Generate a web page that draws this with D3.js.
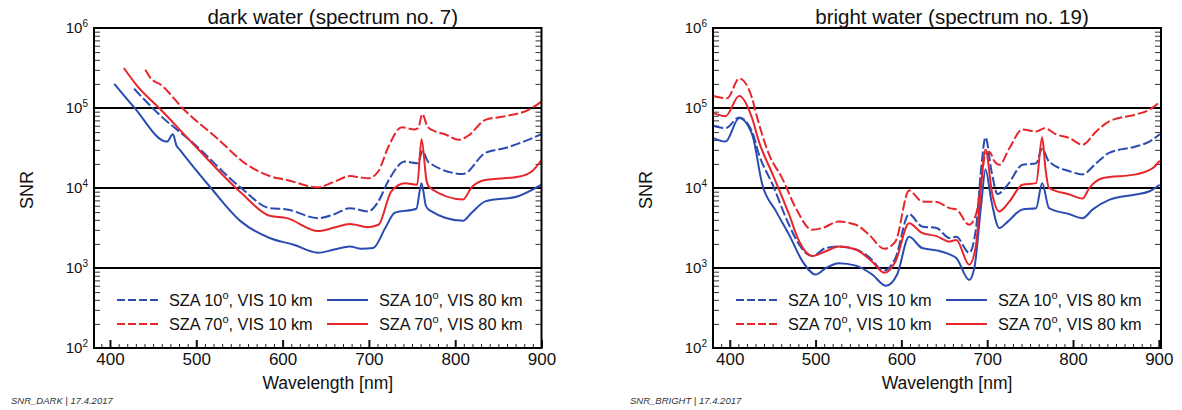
<!DOCTYPE html>
<html><head><meta charset="utf-8">
<script src="https://cdn.jsdelivr.net/npm/d3@7/dist/d3.min.js"></script>
<style>body{margin:0;background:#fff}svg{display:block}text{font-family:"Liberation Sans",Arial,sans-serif;fill:#111}</style>
</head><body><svg id="c" width="1182" height="410"></svg>
<script>
// ---------- DATA ----------
const titles = ["dark water (spectrum no. 7)", "bright water (spectrum no. 19)"];
const footers = ["SNR_DARK | 17.4.2017", "SNR_BRIGHT | 17.4.2017"];
const xTickLabels = [400, 500, 600, 700, 800, 900];
const yDecades = [2, 3, 4, 5, 6];
const legendLabels = [["SZA 10", ", VIS 10 km"], ["SZA 70", ", VIS 10 km"], ["SZA 10", ", VIS 80 km"], ["SZA 70", ", VIS 80 km"]];

// dark water, SZA 10 VIS 10 (blue dashed)
const darkW_10_10 = [428, 455, 497, 552, 585, 605, 641, 660, 678, 699, 711, 722, 742, 757, 762, 769, 809, 835, 858, 900];
const darkV_10_10 = [174000, 87000, 36000, 10000, 5600, 5400, 4200, 4700, 5600, 5100, 6800, 12000, 21400, 20400, 29000, 21000, 15000, 27500, 31600, 47000];
// dark water, SZA 70 VIS 10 (red dashed)
const darkW_70_10 = [441, 447, 459, 486, 524, 559, 585, 605, 641, 660, 678, 691, 699, 711, 722, 738, 753, 757, 762, 768, 777, 788, 804, 815, 835, 858, 885, 900];
const darkV_70_10 = [300000, 237000, 195000, 95000, 42000, 19500, 14100, 12600, 10200, 12000, 14100, 13500, 13200, 16200, 31600, 57500, 54000, 56000, 84000, 58000, 51000, 47000, 40000, 45000, 71000, 79000, 95000, 120000];
// dark water, SZA 10 VIS 80 (blue solid)
const darkW_10_80 = [405, 428, 466, 473, 477, 481, 500, 517, 552, 585, 613, 641, 660, 678, 691, 705, 719, 730, 755, 761, 766, 770, 809, 819, 835, 873, 900];
const darkV_10_80 = [200000, 102000, 38000, 47000, 34000, 30000, 16600, 10000, 3800, 2370, 1950, 1550, 1700, 1860, 1740, 1780, 3160, 4900, 5500, 11500, 6000, 5300, 3900, 4900, 6800, 7900, 11000];
// dark water, SZA 70 VIS 80 (red solid)
const darkW_70_80 = [416, 432, 459, 497, 552, 585, 605, 641, 660, 678, 699, 711, 726, 742, 756, 761, 767, 771, 809, 819, 835, 873, 889, 900];
const darkV_70_80 = [316000, 186000, 95000, 35000, 8700, 4500, 4200, 2900, 3200, 3550, 3240, 3470, 9100, 11500, 11000, 40700, 12000, 10000, 7200, 10200, 12600, 13800, 16200, 22400];

// bright water, SZA 10 VIS 10 (blue dashed)
const brightW_10_10 = [381, 395, 411, 426, 434, 450, 469, 481, 496, 512, 527, 547, 566, 574, 580, 593, 609, 624, 641, 656, 664, 679, 687, 693, 698, 705, 712, 724, 741, 757, 764, 772, 796, 811, 827, 842, 873, 889, 901];
const brightV_10_10 = [60000, 56000, 76000, 51000, 26300, 11000, 3470, 1950, 1410, 1780, 1860, 1700, 1260, 1000, 930, 1330, 4700, 3300, 3160, 2370, 2450, 1550, 3160, 17800, 43000, 16200, 8400, 11000, 19500, 20400, 31000, 21400, 16200, 14800, 20400, 27500, 33000, 38000, 47000];
// bright water, SZA 70 VIS 10 (red dashed)
const brightW_70_10 = [381, 397, 411, 426, 430, 446, 461, 477, 496, 508, 527, 547, 562, 580, 593, 609, 624, 641, 656, 664, 679, 687, 693, 698, 703, 708, 714, 726, 741, 757, 767, 780, 796, 811, 827, 842, 873, 889, 901];
const brightV_70_10 = [141000, 132000, 234000, 133000, 91000, 26000, 13300, 5600, 3000, 3160, 3800, 3470, 2630, 1740, 2140, 9300, 6800, 6700, 5600, 5400, 3470, 4700, 12000, 27000, 28000, 22000, 19500, 31600, 54000, 51000, 56000, 47000, 42000, 34700, 51000, 68000, 83000, 95000, 119000];
// bright water, SZA 10 VIS 80 (blue solid)
const brightW_10_80 = [381, 395, 411, 426, 438, 454, 469, 485, 500, 512, 527, 547, 566, 582, 595, 609, 624, 641, 656, 664, 679, 685, 693, 698, 705, 714, 724, 741, 757, 764, 772, 796, 811, 823, 842, 873, 889, 901];
const brightV_10_80 = [42000, 38000, 75000, 47000, 11000, 5100, 2630, 1200, 830, 1000, 1150, 1070, 830, 600, 830, 2450, 1780, 1660, 1480, 1330, 710, 1000, 6200, 17000, 6800, 3160, 3800, 5400, 5600, 11500, 5600, 4700, 4200, 5400, 7100, 8300, 9100, 11000];
// bright water, SZA 70 VIS 80 (red solid)
const brightW_70_80 = [381, 395, 411, 426, 434, 450, 469, 481, 496, 512, 527, 547, 566, 580, 593, 609, 624, 641, 656, 664, 679, 687, 693, 698, 706, 714, 726, 741, 757, 764, 768, 772, 796, 811, 819, 835, 873, 893, 901];
const brightV_70_80 = [87000, 79000, 141000, 75000, 38000, 14800, 4700, 2140, 1410, 1620, 1860, 1700, 1200, 870, 1200, 3630, 2750, 2500, 2140, 2240, 1100, 1950, 11000, 30000, 8300, 5100, 6800, 11000, 11500, 43000, 17000, 10000, 8300, 7400, 10000, 13300, 14800, 17800, 21900];

// ---------- DRAW ----------
const BLUE = "#2a4cb2", RED = "#e6262b";
const svg = d3.select("#c");
const panels = [
  {x0: 94, x1: 541.5, dom: [381.5, 900], title: titles[0], foot: footers[0], footX: 11,
   series: [[darkW_10_10, darkV_10_10, BLUE, true], [darkW_70_10, darkV_70_10, RED, true], [darkW_10_80, darkV_10_80, BLUE, false], [darkW_70_80, darkV_70_80, RED, false]]},
  {x0: 713, x1: 1161, dom: [380.5, 902.5], title: titles[1], foot: footers[1], footX: 630,
   series: [[brightW_10_10, brightV_10_10, BLUE, true], [brightW_70_10, brightV_70_10, RED, true], [brightW_10_80, brightV_10_80, BLUE, false], [brightW_70_80, brightV_70_80, RED, false]]}
];
const yTop = 28, yBot = 348;
const y = d3.scaleLog().domain([100, 1e6]).range([yBot, yTop]);

panels.forEach(p => {
  const x = d3.scaleLinear().domain(p.dom).range([p.x0, p.x1]);
  const g = svg.append("g");
  const cx = (p.x0 + p.x1) / 2;

  // minor y ticks (inside, both sides)
  const minorY = [];
  for (let d = 2; d < 6; d++) for (let k = 2; k <= 9; k++) minorY.push(k * Math.pow(10, d));
  g.append("g").attr("transform", `translate(${p.x0},0)`)
    .call(d3.axisLeft(y).tickValues(minorY).tickSize(-6).tickFormat(""))
    .call(a => { a.select(".domain").remove(); a.selectAll("line").attr("stroke", "#333").attr("stroke-width", 1); });
  g.append("g").attr("transform", `translate(${p.x1},0)`)
    .call(d3.axisRight(y).tickValues(minorY).tickSize(-6).tickFormat(""))
    .call(a => { a.select(".domain").remove(); a.selectAll("line").attr("stroke", "#333").attr("stroke-width", 1); });

  // x minor ticks
  const minorX = d3.range(390, 901, 10).filter(v => v % 100 !== 0 && v >= p.dom[0]);
  g.append("g").attr("transform", `translate(0,${yBot})`)
    .call(d3.axisBottom(x).tickValues(minorX).tickSize(-4).tickFormat(""))
    .call(a => { a.select(".domain").remove(); a.selectAll("line").attr("stroke", "#222").attr("stroke-width", 1); });
  // x major ticks + labels
  g.append("g").attr("transform", `translate(0,${yBot})`)
    .call(d3.axisBottom(x).tickValues(xTickLabels).tickSize(-8).tickPadding(5).tickFormat(d3.format("d")))
    .call(a => {
      a.select(".domain").remove();
      a.selectAll("line").attr("stroke", "#111").attr("stroke-width", 2);
      a.selectAll("text").attr("font-size", 17).attr("font-family", "Liberation Sans, Arial, sans-serif").attr("fill", "#111");
    });

  // decade gridlines
  g.selectAll("line.grid").data([1e3, 1e4, 1e5]).join("line")
    .attr("x1", p.x0).attr("x2", p.x1).attr("y1", d => y(d)).attr("y2", d => y(d))
    .attr("stroke", "#000").attr("stroke-width", 2);

  // y labels 10^n
  yDecades.forEach(e => {
    const t = g.append("text").attr("x", p.x0 - 6).attr("y", y(Math.pow(10, e)) + 5)
      .attr("text-anchor", "end").attr("font-size", 15);
    t.append("tspan").text("10");
    t.append("tspan").attr("font-size", 10).attr("dy", -6).text(e);
  });

  // series
  const line = d3.line().curve(d3.curveMonotoneX);
  p.series.forEach(([ws, vs, col, dashed]) => {
    const pts = ws.map((w, i) => [x(w), y(vs[i])]);
    g.append("path").attr("d", line(pts)).attr("fill", "none").attr("stroke", col)
      .attr("stroke-width", 2).attr("stroke-dasharray", dashed ? "10,3" : null)
      .attr("stroke-linejoin", "round");
  });

  // frame
  g.append("rect").attr("x", p.x0).attr("y", yTop).attr("width", p.x1 - p.x0).attr("height", yBot - yTop)
    .attr("fill", "none").attr("stroke", "#000").attr("stroke-width", 2);

  // legend
  const legCols = [23, 233], legRows = [300, 324];
  const legStyle = [[BLUE, true], [RED, true], [BLUE, false], [RED, false]];
  legendLabels.forEach((lab, i) => {
    const col = Math.floor(i / 2), row = i % 2;
    const lx = p.x0 + legCols[col], ly = legRows[row];
    g.append("line").attr("x1", lx).attr("x2", lx + 41).attr("y1", ly).attr("y2", ly)
      .attr("stroke", legStyle[i][0]).attr("stroke-width", 2).attr("stroke-dasharray", legStyle[i][1] ? "8,3" : null);
    const t = g.append("text").attr("x", lx + 52).attr("y", ly + 5.5).attr("font-size", 16.3);
    t.append("tspan").text(lab[0]);
    t.append("tspan").attr("font-size", 11).attr("dy", -7).text("o");
    t.append("tspan").attr("dy", 7).text(lab[1]);
  });

  // title
  g.append("text").attr("x", cx + 15).attr("y", 24).attr("text-anchor", "middle").attr("font-size", 20.5).text(p.title);
  // axis titles
  g.append("text").attr("x", cx + 10).attr("y", 389).attr("text-anchor", "middle").attr("font-size", 17.5).text("Wavelength [nm]");
  g.append("text").attr("transform", `translate(${p.x0 - 61},${(yTop + yBot) / 2 + 2}) rotate(-90)`)
    .attr("text-anchor", "middle").attr("font-size", 18).text("SNR");
  // footer
  g.append("text").attr("x", p.footX).attr("y", 404).attr("font-size", 9.5).attr("font-style", "italic")
    .style("fill", "#333").text(p.foot);
});
</script></body></html>
